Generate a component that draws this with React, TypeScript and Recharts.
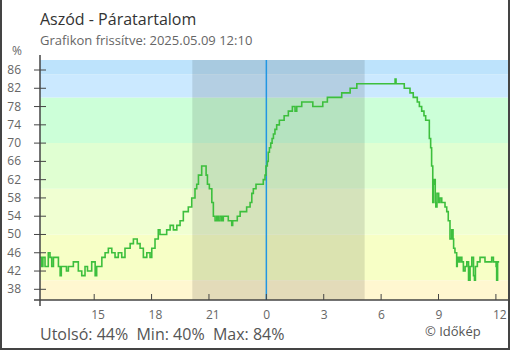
import React from 'react';
import { LineChart, Line, XAxis, YAxis, ReferenceArea, ReferenceLine } from 'recharts';

// time in hours relative to midnight (negative = previous day)
const hours = [
  -11.83, -11.75, -11.68, -11.57, -11.4, -11.31, -11.22, -11.13, -10.87, -10.78,
  -10.72, -10.45, -10.35, -10.09, -9.83, -9.65, -9.48, -9.35, -9.13, -8.95,
  -8.87, -8.6, -8.43, -8.26, -8.08, -7.91, -7.74, -7.56, -7.39, -7.12,
  -6.95, -6.75, -6.6, -6.43, -6.25, -6.08, -5.99, -5.82, -5.65, -5.56,
  -5.21, -5.03, -4.86, -4.68,
  -4.51, -4.34, -4.08, -3.9, -3.73, -3.64, -3.55, -3.38, -3.15, -3.08,
  -2.98, -2.85, -2.77, -2.68, -2.59, -2.51, -2.42, -2.33, -2.25, -1.99,
  -1.81, -1.76, -1.52, -1.37, -1.03, -0.85, -0.76, -0.68, -0.54, -0.16,
  -0.07, -0.02, 0.05, 0.1, 0.16, 0.23, 0.3, 0.37, 0.45, 0.54,
  0.68, 0.93, 1.15, 1.36, 1.5, 1.59, 1.85, 2.43, 2.95, 3.19,
  3.94, 4.38, 4.73,
  6.73, 6.78, 7.21, 7.51, 7.68, 7.89, 8.0, 8.12, 8.24, 8.33,
  8.52, 8.59, 8.64, 8.7, 8.73, 8.78, 8.83, 8.86, 8.92, 9.01,
  9.08, 9.17, 9.34, 9.43, 9.51, 9.6, 9.69, 9.76, 9.79, 9.86,
  9.95, 9.98, 10.05, 10.13, 10.22, 10.3, 10.39, 10.48, 10.57, 10.65,
  10.74, 10.83, 10.88, 10.93, 11.03, 11.17, 11.43, 11.78, 11.87, 12.01,
  12.04, 12.09, 12.17,
];

const humidity = [
  45, 43, 45, 43, 46, 45, 43, 45, 43, 41,
  43, 42, 43, 44, 42, 41, 43, 42, 44, 41,
  43, 45, 46, 47, 46, 45, 46, 45, 47, 48,
  49, 48, 47, 45, 46, 45, 47, 49, 51, 50,
  51, 52, 51, 52,
  53, 55, 56, 58, 60, 61, 63, 65, 63, 61,
  60, 57, 54, 53, 54, 53, 54, 53, 54, 53,
  52, 53, 54, 55, 56, 57, 59, 60, 61, 62,
  63, 65, 66, 68, 69, 70, 71, 72, 73, 74,
  75, 76, 77, 78, 77, 78, 79, 78, 79, 80,
  81, 82, 83,
  84, 83, 82, 81, 80, 79, 78, 77, 76, 75,
  71, 69, 65, 57, 61, 62, 57, 56, 59, 57,
  58, 57, 56, 55, 53, 49, 51, 49, 47, 46,
  43, 45, 44, 45, 44, 42, 43, 44, 40, 43,
  45, 41, 40, 43, 44, 45, 44, 45, 44, 43,
  40, 44, 44,
];

const xTickHours = [-9, -6, -3, 0, 3, 6, 9, 12];
const xTickLabels = ['15', '18', '21', '0', '3', '6', '9', '12'];
const yTicks = [38, 42, 46, 50, 54, 58, 62, 66, 70, 74, 78, 82, 86];

// background bands (value ranges) and colours
const bandFrom = [35.66, 40, 50, 60, 70, 80, 85];
const bandTo = [40, 50, 60, 70, 80, 85, 88.19];
const bandColors = ['#fff7d0', '#f7ffc6', '#f0ffd2', '#e0ffd2', '#ccffd8', '#cbe9ff', '#bde3fc'];

const xDomain: [number, number] = [-11.833, 12.633];
const yDomain: [number, number] = [35.66, 88.19];
const nightStart = -3.87;
const nightEnd = 5.14;

const title = 'Aszód - Páratartalom';
const subtitle = 'Grafikon frissítve: 2025.05.09 12:10';

const data = hours.map((h, i) => ({ h, v: humidity[i] }));

const FONT = "'Open Sans', 'Noto Sans', sans-serif";

const XTick = (props: any) => {
  const { x, y, payload } = props;
  const idx = xTickHours.indexOf(payload.value);
  return (
    <g>
      <line x1={x} x2={x} y1={y - 6} y2={y} stroke="#444" strokeWidth={1} />
      <text x={x - 3} y={y + 19} fontSize={12} fill="#666" fontFamily={FONT}>
        {idx >= 0 ? xTickLabels[idx] : ''}
      </text>
    </g>
  );
};

const YTick = (props: any) => {
  const { x, y, payload } = props;
  return (
    <g>
      <line x1={x - 6} x2={x + 6} y1={y} y2={y} stroke="#444" strokeWidth={1} />
      <text x={x - 19} y={y + 4} fontSize={12} fill="#666" textAnchor="end" fontFamily={FONT}>
        {payload.value}
      </text>
    </g>
  );
};

export default function App() {
  const last = humidity[humidity.length - 1];
  const min = Math.min(...humidity);
  const max = Math.max(...humidity);
  return (
    <div style={{ position: 'fixed', left: 0, top: 0, width: 510, height: 350, background: '#fff', fontFamily: FONT }}>
      <div style={{ position: 'absolute', left: 0, top: 0 }}>
        <LineChart width={510} height={350} data={data} margin={{ top: 60, right: 2, left: 0, bottom: 0 }}>
          {bandFrom.map((f, i) => (
            <ReferenceArea key={i} x1={xDomain[0]} x2={xDomain[1]} y1={f} y2={bandTo[i]} fill={bandColors[i]} fillOpacity={1} stroke="none" ifOverflow="hidden" />
          ))}
          <ReferenceArea x1={nightStart} x2={nightEnd} y1={yDomain[0]} y2={yDomain[1]} fill="#000" fillOpacity={0.11} stroke="none" />
          <XAxis
            dataKey="h"
            type="number"
            domain={xDomain}
            allowDataOverflow
            ticks={xTickHours}
            interval={0}
            height={50}
            tickSize={0}
            tickMargin={0}
            tick={<XTick />}
            axisLine={{ stroke: '#444', strokeWidth: 1.5 }}
          />
          <YAxis
            type="number"
            domain={yDomain}
            allowDataOverflow
            ticks={yTicks}
            interval={0}
            width={40}
            tickSize={0}
            tickMargin={0}
            tick={<YTick />}
            axisLine={{ stroke: '#444', strokeWidth: 1.5 }}
          />
          <ReferenceLine x={0} stroke="#2196e3" strokeWidth={1.5} />
          <Line type="stepAfter" dataKey="v" stroke="#3dbf3d" strokeWidth={1.6} dot={false} isAnimationActive={false} />
        </LineChart>
      </div>
      <svg width={510} height={350} style={{ position: 'absolute', left: 0, top: 0, pointerEvents: 'none' }}>
        <text x={40} y={25} fontSize={16} fill="#333" fontFamily={FONT}>{title}</text>
        <text x={40} y={45} fontSize={13} fill="#666" fontFamily={FONT}>{subtitle}</text>
        <text x={17} y={55} fontSize={12} fill="#666" textAnchor="middle" fontFamily={FONT}>%</text>
        <text x={40} y={340} fontSize={16} fill="#555" fontFamily={FONT} style={{ whiteSpace: 'pre' }}>
          {`Utolsó: ${last}%  Min: ${min}%  Max: ${max}%`}
        </text>
        <text x={425} y={336} fontSize={13} fill="#555" fontFamily={FONT}>© Időkép</text>
        {/* axis line extensions */}
        <line x1={40} x2={40} y1={55} y2={60} stroke="#444" strokeWidth={1.5} />
        <line x1={40} x2={40} y1={300} y2={306} stroke="#444" strokeWidth={1.5} />
        <line x1={34} x2={40} y1={300} y2={300} stroke="#444" strokeWidth={1.5} />
        {/* frame */}
        <line x1={1} x2={1} y1={0} y2={350} stroke="#444" strokeWidth={2} />
        <line x1={509} x2={509} y1={0} y2={350} stroke="#444" strokeWidth={2} />
        <line x1={0} x2={510} y1={349} y2={349} stroke="#444" strokeWidth={2} />
      </svg>
    </div>
  );
}
